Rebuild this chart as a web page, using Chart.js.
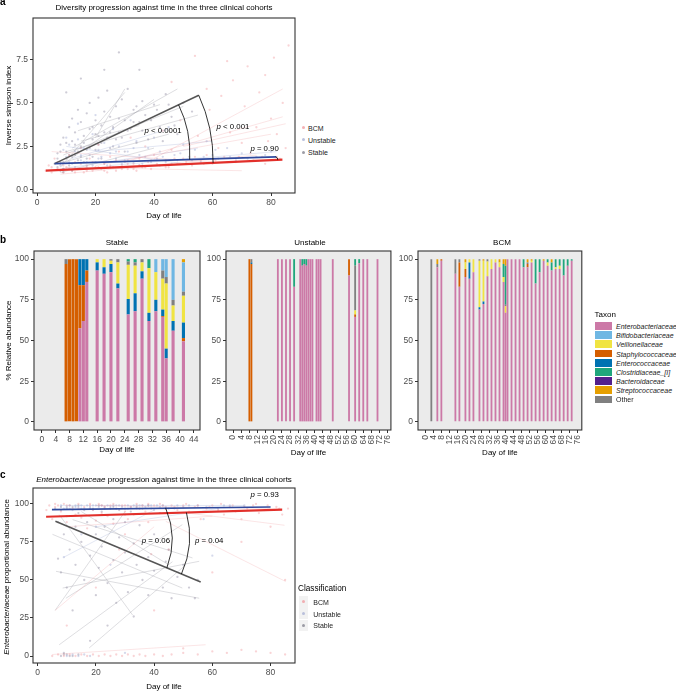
<!DOCTYPE html>
<html>
<head>
<meta charset="utf-8">
<script src="https://cdn.jsdelivr.net/npm/chart.js@4.4.1/dist/chart.umd.min.js"></script>
<style>
html,body{margin:0;padding:0;background:#fff;}
body{width:676px;height:692px;overflow:hidden;position:relative;font-family:"Liberation Sans",Arial,Helvetica,sans-serif;}
canvas{position:absolute;}
.tx{position:absolute;white-space:nowrap;color:#000;line-height:1;}
.c{transform:translate(-50%,-50%);}
.lab{position:absolute;white-space:nowrap;line-height:1;color:#222;transform:translateY(-50%);}
.key{position:absolute;}
</style>
</head>
<body>
<canvas id="chartA" width="300" height="225" style="left:0px;top:0px"></canvas>
<canvas id="chartB1" width="205" height="225" style="left:0px;top:240px"></canvas>
<canvas id="chartB2" width="195" height="225" style="left:205px;top:240px"></canvas>
<canvas id="chartB3" width="192" height="225" style="left:398px;top:240px"></canvas>
<canvas id="chartC" width="300" height="222" style="left:0px;top:470px"></canvas>

<div class="tx" style="left:0px;top:-3.5px;font-size:10px;font-weight:bold">a</div>
<div class="tx" style="left:0px;top:235px;font-size:10px;font-weight:bold">b</div>
<div class="tx" style="left:0px;top:470px;font-size:10px;font-weight:bold">c</div>

<div class="tx c" style="left:164px;top:8px;font-size:8px">Diversity progression against time in the three clinical cohorts</div>
<div class="tx c" style="left:117px;top:243px;font-size:8px">Stable</div>
<div class="tx c" style="left:310px;top:243px;font-size:8px">Unstable</div>
<div class="tx c" style="left:502px;top:243px;font-size:8px">BCM</div>
<div class="tx c" style="left:164px;top:480px;font-size:8px"><i>Enterobacteriaceae</i> progression against time in the three clinical cohorts</div>
<div class="tx" style="left:7px;top:577px;font-size:8px;transform:translate(-50%,-50%) rotate(-90deg)"><i>Enterobacteriaceae</i> proportional abundance</div>

<div id="legendA"></div>
<div id="legendB"></div>
<div id="legendC"></div>

<script>
// ---------------- DATA ----------------
// Panel a: inverse Simpson index vs day of life
const xTicksA = [0, 20, 40, 60, 80];
const yTicksA = [0, 2.5, 5, 7.5];

const stablePtsA = [[6,1.5],[7,1.3],[7,2.1],[8,1.6],[8,2.6],[9,1.2],[9,3.0],[10,2.2],[10,1.8],[11,3.6],[11,1.4],[12,2.8],[12,4.1],[13,2.0],[13,3.3],[14,1.7],[14,4.6],[15,2.5],[15,3.9],[16,1.6],[16,3.1],[17,4.4],[17,2.3],[18,5.0],[18,3.5],[19,2.9],[19,1.9],[20,4.0],[20,3.2],[21,2.6],[21,5.3],[22,3.7],[22,1.8],[23,4.5],[24,3.0],[24,5.7],[25,2.4],[25,4.2],[26,3.6],[27,4.8],[27,2.9],[28,3.3],[29,5.2],[30,4.0],[30,2.2],[31,5.8],[32,3.5],[33,4.6],[34,2.7],[35,3.9],[36,5.1],[37,4.3],[38,2.9],[40,4.9],[42,3.6],[44,5.5],[46,4.2],[48,3.2],[50,5.0],[53,4.5],[10,5.6],[15,6.4],[23,6.9],[28,7.9],[35,6.9],[8,1.1],[12,1.1],[9,1.0],
  [7,1.8],[8,2.2],[9,1.6],[10,2.7],[11,2.0],[12,1.9],[13,2.6],[14,2.2],[15,1.9],[16,2.7],[17,1.8],[18,2.4],[19,3.6],[20,2.3],[21,3.1],[22,2.7],[23,3.3],[25,3.3],[26,2.5],[28,4.1],[29,3.0],[31,3.4],[33,3.9],[34,4.8],[36,3.4],[39,4.0],[41,4.6],[43,2.8],[45,4.9],[47,3.7]];
const unstablePtsA = [[8,1.4],[9,2.3],[10,1.9],[11,2.6],[12,1.5],[13,2.2],[14,2.9],[15,1.7],[16,2.4],[17,1.3],[18,2.0],[19,3.2],[20,1.6],[21,2.3],[22,1.9],[23,2.7],[24,1.4],[25,2.1],[26,3.5],[27,1.8],[28,2.5],[30,1.7],[31,2.2],[32,4.0],[33,1.6],[34,2.8],[35,2.0],[36,1.5],[38,2.4],[40,3.0],[41,1.8],[42,2.2],[44,1.6],[45,3.6],[47,2.0],[48,1.7],[50,2.6],[52,1.9],[54,2.3],[56,1.6],[58,2.8],[60,2.0],[62,1.8],[65,2.4],[68,1.7],[70,2.1],[75,1.9],[80,2.2],[20,4.3],[14,3.8],[10,3.0],
  [9,1.2],[11,1.6],[13,1.3],[15,2.0],[17,1.6],[19,1.4],[21,1.8],[23,1.5],[25,1.3],[27,2.2],[29,1.5],[31,1.7],[33,2.4],[35,1.4],[37,1.9],[39,1.6],[43,1.9],[46,1.5],[49,2.1],[53,1.7],[57,1.9],[61,2.3],[66,1.9],[72,1.8],[78,2.0]];
const bcmPtsA = [[3,1.1],[4,1.4],[5,1.0],[6,1.8],[7,1.2],[8,1.5],[9,1.0],[10,1.3],[11,2.0],[12,1.1],[13,1.6],[14,1.2],[15,2.4],[16,1.0],[17,1.4],[18,1.8],[19,1.1],[20,1.3],[21,2.6],[22,1.2],[23,1.5],[24,1.0],[25,1.9],[26,1.3],[27,1.1],[28,2.2],[29,1.4],[30,1.6],[31,1.2],[32,3.0],[33,1.5],[34,1.1],[35,1.8],[36,1.3],[37,2.5],[38,1.6],[39,1.2],[40,2.0],[42,1.4],[43,3.4],[44,1.7],[45,1.3],[46,2.3],[48,1.5],[49,4.0],[50,1.8],[52,2.6],[53,1.4],[55,3.1],[56,1.7],[58,2.0],[59,4.6],[60,1.5],[62,2.4],[63,5.4],[64,1.9],[66,3.3],[67,6.3],[68,1.6],[70,2.7],[71,4.8],[72,7.1],[73,2.1],[75,3.6],[76,5.6],[77,1.9],[78,6.6],[79,2.8],[80,4.1],[81,7.6],[82,3.2],[83,1.8],[84,5.0],[85,2.4],[86,8.3],[54,7.7],[46,6.2],[58,5.8],[65,7.4],
  [5,1.3],[7,1.6],[9,1.4],[11,1.2],[13,1.0],[15,1.5],[17,1.1],[19,1.6],[21,1.3],[23,1.1],[25,1.4],[27,1.7],[29,1.2],[31,1.5],[33,1.2],[35,1.4],[37,1.3],[39,1.7],[41,1.5],[44,1.3],[47,1.8],[51,1.6],[54,1.9],[57,1.5],[61,1.7],[65,1.6],[69,1.9],[74,1.7],[78,1.5],[82,1.9]];

const stableLinesA = [[[8,1.3],[30,5.6]],[[10,1.6],[40,5.2]],[[12,2.4],[48,5.8]],[[9,2.0],[50,4.8]],[[15,2.8],[35,3.7]],[[7,1.5],[45,3.2]],[[10,2.2],[55,4.3]],[[20,3.0],[30,5.8]],[[8,1.0],[40,2.4]],[[14,3.4],[42,4.9]]];
const unstableLinesA = [[[8,1.2],[55,2.4]],[[10,2.5],[50,1.5]],[[20,2.2],[60,2.8]],[[25,1.4],[82,2.2]],[[12,1.8],[45,3.5]]];
const bcmLinesA = [[[40,1.8],[84,5.8]],[[30,1.6],[84,4.2]],[[20,1.4],[80,3.2]],[[10,1.3],[70,1.1]],[[5,2.2],[60,1.6]],[[50,2.5],[85,3.8]],[[8,0.9],[75,2.0]]];

const stableFitA = [[6.0,1.51],[55.3,5.44]];
const unstableFitA = [[6.0,1.51],[81.8,1.90]];
const bcmFitA = [[3.0,1.11],[83.9,1.74]];

// Panel b: relative abundance (%) per sample
const taxaStack = ['Enterobacteriaceae','Staphylococcaceae','Enterococcaceae','Veillonellaceae','Other','Clostridiaceae_[I]','Bacteroidaceae','Bifidobacteriaceae','Streptococcaceae'];
const taxaLegend = ['Enterobacteriaceae','Bifidobacteriaceae','Veillonellaceae','Staphylococcaceae','Enterococcaceae','Clostridiaceae_[I]','Bacteroidaceae','Streptococcaceae','Other'];
// columns: day, then values in taxaStack order
const stableBars = [
  [7, 0,97,0,0,3,0,0,0,0],
  [8, 0,100,0,0,0,0,0,0,0],
  [9, 0,100,0,0,0,0,0,0,0],
  [10, 0,100,0,0,0,0,0,0,0],
  [11, 57.5,26.5,16,0,0,0,0,0,0],
  [12, 62,22,16,0,0,0,0,0,0],
  [13, 86,7,7,0,0,0,0,0,0],
  [16, 93,0,5,2,0,0,0,0,0],
  [18, 91,0,4,5,0,0,0,0,0],
  [20, 92,0,5,2,1,0,0,0,0],
  [22, 82,0,3,13,2,0,0,0,0],
  [25, 66,0,9.5,21,2,1.5,0,0,0],
  [27, 68,0,11,17,2,2,0,0,0],
  [29, 88,0,4.5,5.5,2,0,0,0,0],
  [31, 62,0,5,27.5,0,5.5,0,0,0],
  [33, 68,0,7,17,0,0,0,8,0],
  [35, 64.5,0.5,4,19,5,0,0,7,0],
  [36, 39,0,6,40,4,0,0,11,0],
  [38, 56,0,6,9.5,3.5,0,0,25,0],
  [41, 49.5,2,9.5,16.5,2.5,0,0,18,2]
];
const unstableBars = [
  [8, 0,100,0,0,0,0,0,0,0],
  [9, 0,97,1,0,2,0,0,0,0],
  [22, 100,0,0,0,0,0,0,0,0],
  [24, 100,0,0,0,0,0,0,0,0],
  [26, 100,0,0,0,0,0,0,0,0],
  [28, 100,0,0,0,0,0,0,0,0],
  [30, 83,0,0,0,0,17,0,0,0],
  [33, 100,0,0,0,0,0,0,0,0],
  [34, 96,0,0,0,0,4,0,0,0],
  [35, 97,0,0,0,0,3,0,0,0],
  [36, 96,0,0,0,0,4,0,0,0],
  [37, 100,0,0,0,0,0,0,0,0],
  [38, 100,0,0,0,0,0,0,0,0],
  [39, 100,0,0,0,0,0,0,0,0],
  [41, 100,0,0,0,0,0,0,0,0],
  [42, 100,0,0,0,0,0,0,0,0],
  [43, 100,0,0,0,0,0,0,0,0],
  [49, 100,0,0,0,0,0,0,0,0],
  [57, 90,10,0,0,0,0,0,0,0],
  [60, 64.5,1.5,0,2.5,27.5,4,0,0,0],
  [62, 97.5,0,0,0,0,2.5,0,0,0],
  [64, 100,0,0,0,0,0,0,0,0],
  [66, 100,0,0,0,0,0,0,0,0],
  [71, 100,0,0,0,0,0,0,0,0]
];
const bcmBars = [
  [3, 0,0,0,0,100,0,0,0,0],
  [6, 95,0,0,0,2,0,0,0,3],
  [8, 99,1,0,0,0,0,0,0,0],
  [15, 91,0,0,0,9,0,0,0,0],
  [17, 83,15,0,0,2,0,0,0,0],
  [20, 89,5,0,4,0,0,0,0,2],
  [22, 88,0,10,2,0,0,0,0,0],
  [24, 92,0,0,8,0,0,0,0,0],
  [27, 69,0,1.5,28.5,1,0,0,0,0],
  [29, 72.5,0,1.5,25,0,0,0,0,1],
  [31, 89.5,0,0,9,1.5,0,0,0,0],
  [33, 94,0,0,6,0,0,0,0,0],
  [35, 98,0,0,2,0,0,0,0,0],
  [37, 95,0,0,3,0,0,0,0,2],
  [39, 86,0,0,3,0,8,0,0,3],
  [40, 67,0,0,4,1,24,0,0,4],
  [41, 100,0,0,0,0,0,0,0,0],
  [43, 100,0,0,0,0,0,0,0,0],
  [45, 100,0,0,0,0,0,0,0,0],
  [47, 100,0,0,0,0,0,0,0,0],
  [49, 95,0,0,0,0,5,0,0,0],
  [51, 95,2,0,0,1,0,0,0,2],
  [53, 98,0,0,1,0,0,0,0,1],
  [55, 85,0,0,0,0,15,0,0,0],
  [57, 92,0,0,0,0,8,0,0,0],
  [59, 99,0,0,0,0,0,0,0,1],
  [61, 96,0,0,2,0,2,0,0,0],
  [63, 93,0,0,0,0,5,0,0,2],
  [65, 94,0,0,1,0,5,0,0,0],
  [67, 94,0,0,2,0,4,0,0,0],
  [69, 90,0,0,0,0,10,0,0,0],
  [71, 96,0,0,0,0,4,0,0,0],
  [73, 99,0,0,0,0,1,0,0,0]
];
const yTicksB = [0, 25, 50, 75, 100];
const xTicksStable = [0, 4, 8, 12, 16, 20, 24, 28, 32, 36, 40, 44];
const xTicksLong = [0, 4, 8, 12, 16, 20, 24, 28, 32, 36, 40, 44, 48, 52, 56, 60, 64, 68, 72, 76];

// Panel c: Enterobacteriaceae proportional abundance vs day
const xTicksC = [0, 20, 40, 60, 80];
const yTicksC = [0, 25, 50, 75, 100];
const stablePtsC = [[6,97],[7,88],[7,64],[8,96],[8,55],[9,80],[9,1],[10,92],[10,45],[11,70],[12,98],[12,30],[13,85],[13,60],[14,1],[14,94],[15,75],[16,50],[16,96],[17,88],[18,66],[18,10],[19,97],[20,40],[20,80],[21,58],[22,95],[22,72],[23,85],[24,48],[24,20],[25,97],[26,63],[26,90],[27,35],[28,78],[28,96],[29,55],[30,88],[30,68],[31,42],[32,95],[33,74],[33,26],[34,60],[35,86],[36,50],[36,97],[38,65],[38,40],[40,80],[40,56],[42,94],[43,45],[44,62],[45,70],[46,38],[48,52],[50,60],[52,45],[54,38],[55,50],[8,0],[10,1],[12,0],[9,2],[11,0],
  [8,98],[10,97],[14,99],[18,97],[21,99],[26,98],[30,97],[34,98],[38,99],[44,97]];
const unstablePtsC = [[8,99],[9,97],[10,98],[11,99],[12,96],[13,99],[14,98],[15,99],[16,97],[17,99],[18,98],[19,96],[20,99],[21,98],[22,99],[23,97],[24,99],[25,98],[26,99],[27,97],[28,99],[29,98],[30,93],[31,99],[32,98],[33,99],[34,99],[35,97],[36,99],[37,98],[38,99],[39,99],[40,96],[41,99],[42,98],[43,99],[45,97],[48,99],[50,98],[55,99],[57,90],[60,66],[62,97],[64,99],[66,99],[71,99],[20,85],[25,60],[15,80],[10,0],[12,1],[14,0],[16,1],[18,0],[9,65],[30,2],
  [11,97],[13,98],[15,97],[19,99],[23,98],[27,99],[31,97],[35,99],[39,97],[44,98],[47,97],[52,99],[58,98]];
const bcmPtsC = [[3,96],[4,99],[5,90],[6,98],[7,99],[8,95],[9,100],[10,88],[11,99],[12,97],[13,93],[14,100],[15,91],[16,98],[17,84],[18,99],[19,96],[20,89],[21,100],[22,94],[23,98],[24,92],[25,99],[26,87],[27,97],[28,70],[29,99],[30,95],[31,90],[32,98],[33,93],[34,100],[35,97],[36,99],[37,95],[38,88],[39,67],[40,99],[42,100],[44,97],[46,99],[48,96],[50,99],[52,95],[54,98],[56,90],[58,97],[60,99],[62,96],[64,93],[66,98],[68,95],[70,90],[72,97],[74,99],[76,94],[78,96],[80,85],[82,98],[84,93],[86,97],[30,80],[45,70],[60,55],[70,75],[85,50],[40,30],[20,45],[10,20],[50,5],[5,0],[7,1],[9,0],[11,1],[13,0],[15,1],[17,0],[19,1],[21,0],[23,1],[25,0],[27,1],[29,0],[31,1],[33,0],[35,1],[37,0],[40,1],[43,0],[46,1],[50,2],[55,1],[60,3],[65,2],[70,4],[75,3],[80,2],[85,1],
  [6,100],[10,99],[14,97],[18,100],[22,99],[26,100],[30,99],[34,97],[38,100],[43,99],[47,98],[51,100],[55,99],[59,98],[63,100],[67,99],[71,98],[75,100],[79,99],[83,97]];
const stableLinesC = [[[7.4,93],[32.6,27]],[[6.3,55.7],[55.5,38]],[[7.4,7.4],[46.3,62]],[[17.7,5.3],[50.9,60]],[[5.1,80],[49.7,44.7]],[[8.6,44.7],[55.5,62.3]],[[9.7,38],[49.7,86.4]],[[12,89.7],[53.2,64.5]],[[6,30],[30,95]],[[15,95],[45,60]]];
const unstableLinesC = [[[8,99],[71,99]],[[20,85],[62,97]],[[9,65],[40,96]]];
const bcmLinesC = [[[44,88.6],[85.2,49]],[[5,1],[57.7,7.4]],[[51.6,94],[84.8,86]],[[6,30],[40,85]],[[20,99],[80,97]],[[10,85],[60,92]]];
const stableFitC = [[6.1,88.6],[56,48.7]];
const unstableFitC = [[4.9,96.3],[80,98.0]];
const bcmFitC = [[2.9,91.6],[84,96.3]];

const classes = ['BCM', 'Unstable', 'Stable'];

// ---------------- STYLE ----------------
const FONT = '"Liberation Sans", Arial, Helvetica, sans-serif';
Chart.defaults.font.family = FONT;
Chart.defaults.color = '#4d4d4d';
const INK = '#333333';
const TICKC = '#4d4d4d';

const taxonColors = {
  'Enterobacteriaceae': '#CC79A7',
  'Bifidobacteriaceae': '#6FB7E3',
  'Veillonellaceae': '#F0E442',
  'Staphylococcaceae': '#D55E00',
  'Enterococcaceae': '#0072B2',
  'Clostridiaceae_[I]': '#1FA67C',
  'Bacteroidaceae': '#53208C',
  'Streptococcaceae': '#E69F00',
  'Other': '#808080'
};
const groupStyle = {
  BCM:      {pt:'rgba(236,120,128,0.32)', ln:'rgba(236,140,145,0.33)', fit:'#E2302B', fw:2.2, key:'rgba(240,150,155,0.75)'},
  Unstable: {pt:'rgba(150,160,205,0.40)', ln:'rgba(150,165,210,0.38)', fit:'#2F4A9E', fw:1.7, key:'rgba(175,182,215,0.85)'},
  Stable:   {pt:'rgba(120,115,140,0.36)', ln:'rgba(140,140,150,0.42)', fit:'#555555', fw:1.5, key:'rgba(140,140,150,0.85)'}
};

// ---------------- HELPERS ----------------
function fitY(fit, x) {
  const [[x0, y0], [x1, y1]] = fit;
  return y0 + (y1 - y0) * (x - x0) / (x1 - x0);
}
function pts(arr) { return arr.map(([x, y]) => ({x, y})); }

function framePlugin(bg) {
  return {
    id: 'frame',
    beforeDraw(chart) {
      if (!bg) return;
      const a = chart.chartArea, ctx = chart.ctx;
      ctx.save(); ctx.fillStyle = bg;
      ctx.fillRect(a.left, a.top, a.right - a.left, a.bottom - a.top);
      ctx.restore();
    },
    afterDraw(chart) {
      const a = chart.chartArea, ctx = chart.ctx;
      ctx.save(); ctx.strokeStyle = INK; ctx.lineWidth = 1.1;
      ctx.strokeRect(a.left, a.top, a.right - a.left, a.bottom - a.top);
      ctx.restore();
    }
  };
}

function arcPlugin(arcs, labels) {
  return {
    id: 'arcs',
    afterDatasetsDraw(chart) {
      const xs = chart.scales.x, ys = chart.scales.y, ctx = chart.ctx;
      ctx.save();
      ctx.strokeStyle = '#000'; ctx.lineWidth = 0.8;
      arcs.forEach(a => {
        const x0 = xs.getPixelForValue(a.x0), y0 = ys.getPixelForValue(fitY(a.from, a.x0));
        const x1 = xs.getPixelForValue(a.x1), y1 = ys.getPixelForValue(fitY(a.to, a.x1));
        const dx = x1 - x0, dy = y1 - y0, L = Math.hypot(dx, dy);
        const nx = dy / L, ny = -dx / L, s = a.bend * L;
        const cx = (x0 + x1) / 2 + nx * 2 * s, cy = (y0 + y1) / 2 + ny * 2 * s;
        ctx.beginPath(); ctx.moveTo(x0, y0); ctx.quadraticCurveTo(cx, cy, x1, y1); ctx.stroke();
      });
      ctx.fillStyle = '#000'; ctx.textBaseline = 'middle'; ctx.textAlign = 'left';
      labels.forEach(l => {
        const px = xs.getPixelForValue(l.x), py = ys.getPixelForValue(l.y);
        ctx.font = 'italic 7.8px ' + FONT; const w1 = ctx.measureText('p').width;
        ctx.font = '7.8px ' + FONT; const w2 = ctx.measureText(l.t).width;
        const sx = px - (w1 + w2) / 2;
        ctx.font = 'italic 7.8px ' + FONT; ctx.fillText('p', sx, py);
        ctx.font = '7.8px ' + FONT; ctx.fillText(l.t, sx + w1, py);
      });
      ctx.restore();
    }
  };
}

function gridOpts() {
  return {display: true, drawOnChartArea: false, drawTicks: true, tickLength: 3, tickColor: INK, tickWidth: 1, offset: false};
}
function axisX(min, max, ticks, height, titlePad, rotate, tickPad) {
  return {
    type: 'linear', min, max, offset: false,
    afterBuildTicks: s => { s.ticks = ticks.map(v => ({value: v})); },
    afterFit: s => { s.height = height; },
    ticks: {font: {size: 8.5}, color: TICKC, padding: tickPad, autoSkip: false,
            maxRotation: rotate ? 90 : 0, minRotation: rotate ? 90 : 0, callback: v => String(v)},
    grid: gridOpts(),
    border: {display: false},
    title: {display: true, text: 'Day of life', color: '#000', font: {size: 8}, padding: {top: 0, bottom: titlePad}}
  };
}
function axisY(min, max, ticks, width, title, fmt, tickPad) {
  return {
    type: 'linear', min, max,
    afterBuildTicks: s => { s.ticks = ticks.map(v => ({value: v})); },
    afterFit: s => { s.width = width; },
    ticks: {font: {size: 8.5}, color: TICKC, padding: tickPad, callback: fmt || (v => String(v))},
    grid: gridOpts(),
    border: {display: false},
    title: title ? {display: true, text: title, color: '#000', font: {size: 8}, padding: {top: 3.5, bottom: 0}} : {display: false}
  };
}

function scatterDatasets(ptsBy, linesBy, fitBy) {
  const ds = [];
  classes.forEach(g => {
    const st = groupStyle[g];
    ds.push({type: 'scatter', data: pts(ptsBy[g]), pointRadius: 1.15, pointBorderWidth: 0,
             backgroundColor: st.pt, borderColor: st.pt, order: 3});
    linesBy[g].forEach(seg => ds.push({type: 'line', data: pts(seg), borderColor: st.ln, borderWidth: 0.7,
             pointRadius: 0, fill: false, order: 2}));
  });
  ['BCM', 'Unstable', 'Stable'].forEach(g => {
    const st = groupStyle[g];
    ds.push({type: 'line', data: pts(fitBy[g]), borderColor: st.fit, borderWidth: st.fw, pointRadius: 0, fill: false, order: 1});
  });
  return ds;
}

// ---------------- PANEL A ----------------
new Chart(document.getElementById('chartA'), {
  type: 'scatter',
  data: {datasets: scatterDatasets(
    {BCM: bcmPtsA, Unstable: unstablePtsA, Stable: stablePtsA},
    {BCM: bcmLinesA, Unstable: unstableLinesA, Stable: stableLinesA},
    {BCM: bcmFitA, Unstable: unstableFitA, Stable: stableFitA})},
  options: {
    responsive: false, animation: false, events: [],
    layout: {padding: {top: 18, right: 5, left: 0, bottom: 0}},
    plugins: {legend: {display: false}, tooltip: {enabled: false}},
    scales: {
      x: axisX(-1.37, 88.2, xTicksA, 32, 4, false, 2),
      y: axisY(-0.18, 9.88, yTicksA, 33, 'Inverse simpson index', v => v.toFixed(1), 2)
    }
  },
  plugins: [framePlugin(null), arcPlugin(
    [{from: stableFitA, x0: 48.4, to: unstableFitA, x1: 52.2, bend: 0.065},
     {from: stableFitA, x0: 55.3, to: bcmFitA, x1: 60.2, bend: 0.056},
     {from: unstableFitA, x0: 81.6, to: bcmFitA, x1: 82.3, bend: 0.2}],
    [{x: 43.1, y: 3.41, t: ' < 0.0001'}, {x: 67, y: 3.6, t: ' < 0.001'}, {x: 77.8, y: 2.36, t: ' = 0.90'}])]
});

// ---------------- PANEL B ----------------
function barChart(id, rows, xr, xTicks, rotate, yWidth, yTitle, pad, titlePad) {
  const datasets = taxaStack.map((name, i) => ({
    label: name,
    data: rows.map(r => ({x: r[0], y: r[i + 1]})),
    backgroundColor: taxonColors[name],
    borderWidth: 0,
    categoryPercentage: 1.0,
    barPercentage: 0.9
  }));
  const x = axisX(xr[0], xr[1], xTicks, 35, titlePad, rotate, 2); x.stacked = true;
  const y = axisY(-5, 105, yTicksB, yWidth, yTitle, null, 2); y.stacked = true;
  new Chart(document.getElementById(id), {
    type: 'bar', data: {datasets},
    options: {responsive: false, animation: false, events: [], layout: {padding: pad},
      plugins: {legend: {display: false}, tooltip: {enabled: false}}, scales: {x, y}},
    plugins: [framePlugin('#EBEBEB')]
  });
}
barChart('chartB1', stableBars, [-2.3, 45.8], xTicksStable, false, 34, '% Relative abundance', {top: 11, right: 5, left: 0, bottom: 0}, 10.2);
barChart('chartB2', unstableBars, [-3.5, 77.6], xTicksLong, true, 21, null, {top: 11, right: 6.7, left: 0, bottom: 0}, 7.2);
barChart('chartB3', bcmBars, [-3.65, 78.05], xTicksLong, true, 20, null, {top: 11, right: 4.3, left: 0, bottom: 0}, 7.2);

// ---------------- PANEL C ----------------
new Chart(document.getElementById('chartC'), {
  type: 'scatter',
  data: {datasets: scatterDatasets(
    {BCM: bcmPtsC, Unstable: unstablePtsC, Stable: stablePtsC},
    {BCM: bcmLinesC, Unstable: unstableLinesC, Stable: stableLinesC},
    {BCM: bcmFitC, Unstable: unstableFitC, Stable: stableFitC})},
  options: {
    responsive: false, animation: false, events: [],
    layout: {padding: {top: 18, right: 5, left: 0, bottom: 0}},
    plugins: {legend: {display: false}, tooltip: {enabled: false}},
    scales: {
      x: axisX(-1.6, 88.4, xTicksC, 29, 0, false, 2),
      y: axisY(-4.6, 110.5, yTicksC, 33, null, null, 1)
    }
  },
  plugins: [framePlugin(null), arcPlugin(
    [{from: unstableFitC, x0: 44.0, to: stableFitC, x1: 44.4, bend: 0.1},
     {from: bcmFitC, x0: 51.1, to: stableFitC, x1: 49.4, bend: 0.09}],
    [{x: 40.6, y: 75.9, t: ' = 0.06'}, {x: 58.9, y: 75.5, t: ' = 0.04'}, {x: 78, y: 105.7, t: ' = 0.93'}])]
});

// ---------------- LEGENDS (HTML text) ----------------
(function () {
  const la = document.getElementById('legendA');
  classes.forEach((g, i) => {
    const y = 127.7 + i * 12.2;
    la.insertAdjacentHTML('beforeend',
      `<div class="key" style="left:301.5px;top:${y - 1.6}px;width:3.2px;height:3.2px;border-radius:50%;background:${groupStyle[g].key}"></div>` +
      `<div class="lab" style="left:308px;top:${y}px;font-size:7px">${g}</div>`);
  });

  const lb = document.getElementById('legendB');
  lb.insertAdjacentHTML('beforeend', `<div class="lab" style="left:594.5px;top:315px;font-size:8px;color:#000">Taxon</div>`);
  taxaLegend.forEach((t, i) => {
    const y = 326 + i * 9.17;
    const it = t === 'Other' ? 'normal' : 'italic';
    lb.insertAdjacentHTML('beforeend',
      `<div class="key" style="left:594.5px;top:${y - 3.85}px;width:17.2px;height:7.7px;background:${taxonColors[t]}"></div>` +
      `<div class="lab" style="left:616px;top:${y}px;font-size:7px;font-style:${it}">${t}</div>`);
  });

  const lc = document.getElementById('legendC');
  lc.insertAdjacentHTML('beforeend', `<div class="lab" style="left:298px;top:589px;font-size:8.2px;color:#000">Classification</div>`);
  classes.forEach((g, i) => {
    const y = 601.8 + i * 11.8;
    lc.insertAdjacentHTML('beforeend',
      `<div class="key" style="left:299.3px;top:${y - 5.9}px;width:9px;height:11.8px;background:#F2F2F2"></div>` +
      `<div class="key" style="left:302.2px;top:${y - 1.6}px;width:3.2px;height:3.2px;border-radius:50%;background:${groupStyle[g].key}"></div>` +
      `<div class="lab" style="left:313.3px;top:${y}px;font-size:7px">${g}</div>`);
  });
})();
</script>
</body>
</html>
